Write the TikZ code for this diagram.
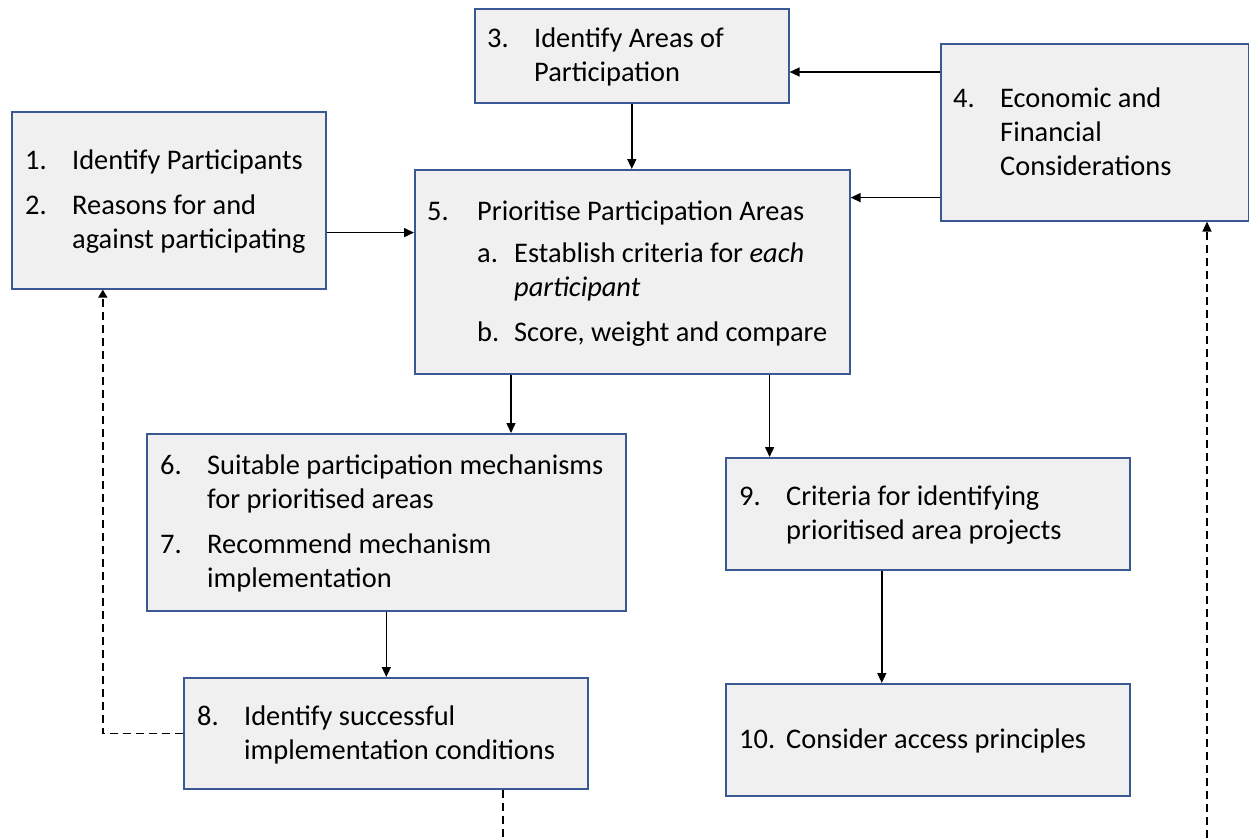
\documentclass[tikz,border=0pt]{standalone}
\usepackage{fontspec}
\setmainfont{Carlito}
\usepackage{array}
\usetikzlibrary{arrows.meta,positioning,calc}
\definecolor{boxblue}{RGB}{58,88,148}
\definecolor{boxgray}{RGB}{240,240,240}
\newcommand{\boxfont}{\fontsize{28.4}{34}\selectfont}
\newcommand{\numlist}[1]{\begin{tabular}{@{}p{47pt}@{}l@{}}#1\end{tabular}}
\tikzset{
  pbox/.style={draw=boxblue, fill=boxgray, line width=1.6pt, anchor=north west, inner sep=0pt},
  ptxt/.style={anchor=west, inner sep=0pt, yshift=-2pt, font=\boxfont},
  arr/.style={-{Triangle[length=10pt,width=9pt]}, line width=1.5pt},
  dsh/.style={line width=1.6pt, dash pattern=on 8pt off 5pt},
}

\begin{document}
\begin{tikzpicture}[x=1pt, y=-1pt]
\useasboundingbox (0,0) rectangle (1249,838);
% boxes
\node[pbox, minimum width=314pt, minimum height=177pt] (b1) at (11,111) {};
\node[pbox, minimum width=314pt, minimum height=94pt] (b3) at (474,8) {};
\node[pbox, minimum width=308pt, minimum height=177pt] (b4) at (940,43) {};
\node[pbox, minimum width=435pt, minimum height=204pt] (b5) at (414,169) {};
\node[pbox, minimum width=479pt, minimum height=177pt] (b6) at (146,433) {};
\node[pbox, minimum width=404pt, minimum height=111pt] (b8) at (183,677) {};
\node[pbox, minimum width=404pt, minimum height=112pt] (b9) at (725,457) {};
\node[pbox, minimum width=404pt, minimum height=112pt] (b10) at (725,683) {};
% texts
\node[ptxt] (t1) at ([xshift=14pt]b1.west) {\numlist{
  1. & Identify Participants\\[11pt]
  2. & Reasons for and\\
     & against participating}};
\node[ptxt] (t3) at ([xshift=13pt]b3.west) {\numlist{
  3. & Identify Areas of\\
     & Participation}};
\node[ptxt] (t4) at ([xshift=13pt]b4.west) {\numlist{
  4. & Economic and\\
     & Financial\\
     & Considerations}};
\node[ptxt] (t5) at ([xshift=13pt]b5.west) {\begin{tabular}{@{}p{50pt}@{}p{37pt}@{}l@{}}
  5. & \multicolumn{2}{@{}l@{}}{Prioritise Participation Areas}\\[8pt]
     & a. & Establish criteria for \textit{each}\\
     &    & \textit{participant}\\[11pt]
     & b. & Score, weight and compare
  \end{tabular}};
\node[ptxt] (t6) at ([xshift=14pt]b6.west) {\numlist{
  6. & Suitable participation mechanisms\\
     & for prioritised areas\\[11pt]
  7. & Recommend mechanism\\
     & implementation}};
\node[ptxt] (t8) at ([xshift=14pt]b8.west) {\numlist{
  8. & Identify successful\\
     & implementation conditions}};
\node[ptxt] (t9) at ([xshift=14pt]b9.west) {\numlist{
  9. & Criteria for identifying\\
     & prioritised area projects}};
\node[ptxt] (t10) at ([xshift=14pt]b10.west) {\numlist{
  10. & Consider access principles}};
% ends of the cut-off dashed links
\coordinate (e8) at (503,838);
\coordinate (e4) at (1207,838);
% arrows
\draw[arr] ([yshift=-29pt]b4.north west) -- ([yshift=-29pt]b4.north west -| b3.east);
\draw[arr] ([yshift=24pt]b4.south west) -- ([yshift=24pt]b4.south west -| b5.east);
\draw[arr] (b3.south) -- (b3.south |- b5.north);
\draw[arr] ([yshift=57pt]b1.south east) -- ([yshift=57pt]b1.south east -| b5.west);
\draw[arr] ([xshift=97pt]b5.south west) -- ([xshift=97pt]b5.south west |- b6.north);
\draw[arr] ([xshift=-81pt]b5.south east) -- ([xshift=-81pt]b5.south east |- b9.north);
\draw[arr] (b6.south) -- (b6.south |- b8.north);
\draw[arr] ([xshift=-46pt]b9.south) -- ([xshift=-46pt]b10.north);
\draw[dsh, -{Triangle[length=8pt,width=9pt]}] (b8.west) -| ([xshift=-66pt]b1.south);
\draw[dsh] (b8.south -| e8) -- (e8);
\draw[dsh, -{Triangle[length=10pt,width=9pt]}] (e4) -- (e4 |- b4.south);
\end{tikzpicture}
\end{document}
